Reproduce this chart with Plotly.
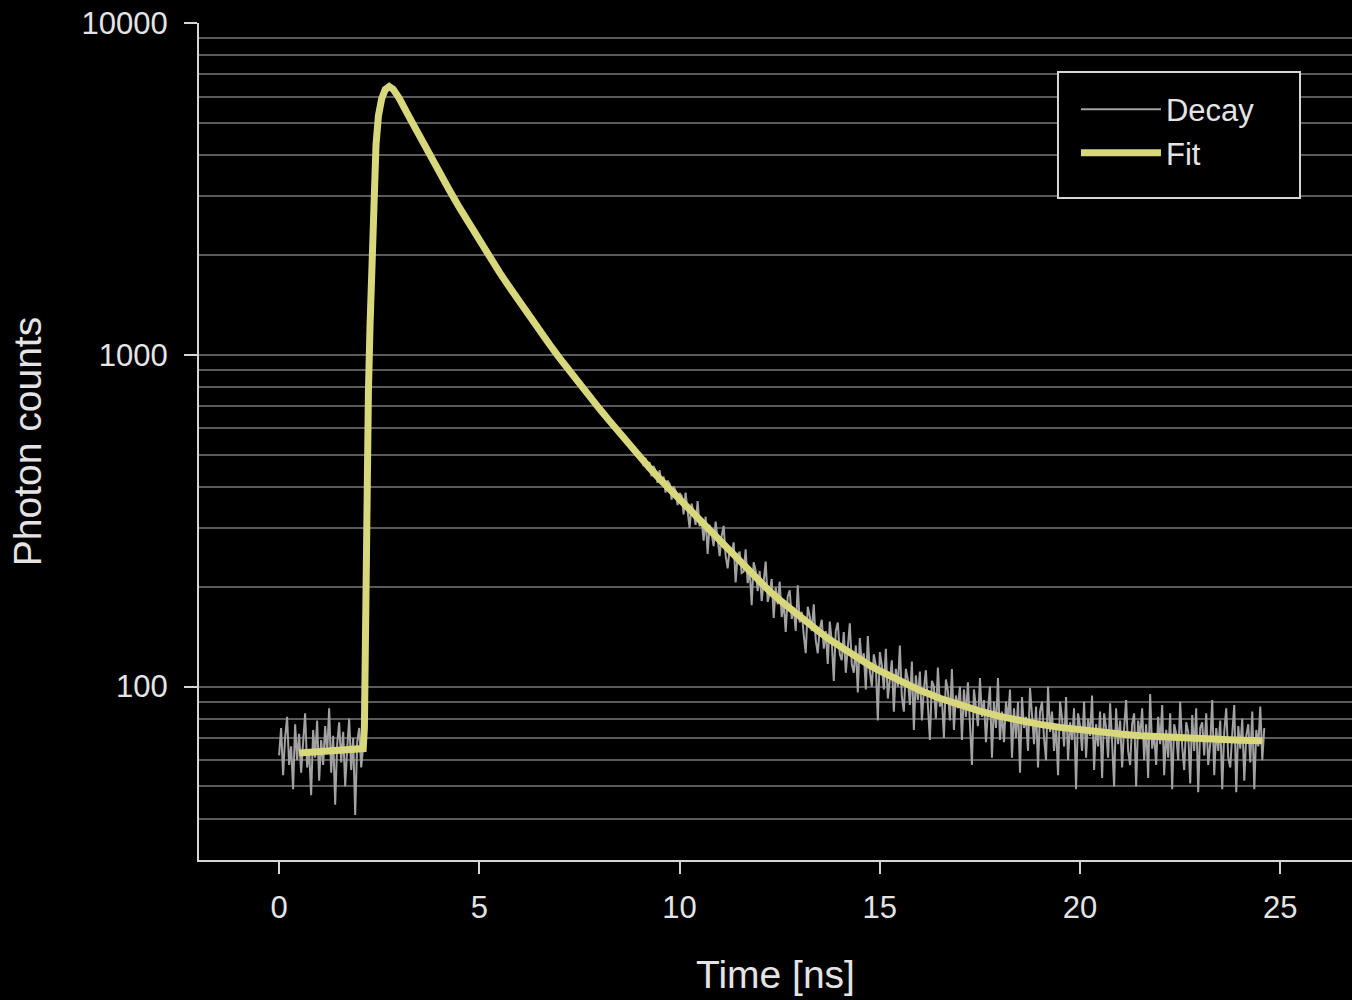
import numpy as np
import plotly.graph_objects as go

# ---------------- data ----------------
# measured decay histogram: one channel every 0.05 ns from 0.00 ns to 24.60 ns
decay_time_ns = np.round(np.arange(0.0, 24.601, 0.05), 2)
decay_counts = [
    # 0.00 - 2.10 ns : background before the excitation pulse
    62, 75, 54, 70, 81, 58, 66, 49, 77, 60, 72, 55, 68, 83, 57, 64, 47, 74, 61, 79,
    52, 69, 58, 76, 63, 86, 55, 71, 44, 67, 78, 59, 73, 50, 65, 80, 56, 70, 41, 68,
    75, 57, 66,
    # 2.15 - 2.75 ns : rise
    160, 540, 1010, 1730, 2880, 3870, 4790, 5380, 5870, 6050, 6330, 6360, 6450,
    # 2.80 - 10.00 ns
    6350, 6340, 6170, 6130, 5880, 5820, 5600, 5540, 5330, 5250,
    5070, 5010, 4820, 4770, 4590, 4540, 4360, 4310, 4160, 4090,
    3950, 3910, 3760, 3690, 3580, 3520, 3400, 3370, 3230, 3180,
    3080, 3050, 2930, 2900, 2790, 2760, 2650, 2630, 2520, 2500,
    2400, 2380, 2280, 2260, 2190, 2170, 2100, 2070, 1990, 1975,
    1900, 1880, 1820, 1800, 1750, 1730, 1680, 1660, 1610, 1595,
    1545, 1528, 1480, 1464, 1425, 1410, 1370, 1354, 1310, 1300,
    1260, 1250, 1211, 1200, 1168, 1160, 1122, 1115, 1082, 1075,
    1041, 1035, 1003, 995, 965, 965, 932, 925, 900, 893,
    869, 860, 839, 830, 811, 808, 784, 778, 757, 750,
    732, 725, 707, 700, 683, 680, 659, 655, 638, 632,
    616, 612, 595, 590, 576, 575, 556, 553, 537, 535,
    518, 520, 500, 507, 484, 498, 462, 489, 451, 475,
    430, 462, 447, 411, 449, 405, 430, 384, 418, 409,
    366, 402, 389, 352, 383,
    # 10.05 - 24.60 ns : tail
    376, 330, 384, 338, 301, 356, 335, 307, 362, 304,
    319, 275, 325, 251, 307, 290, 265, 314, 272, 247,
    284, 305, 248, 227, 259, 248, 272, 206, 249, 255,
    220, 222, 259, 205, 225, 176, 237, 223, 194, 223,
    181, 208, 238, 180, 191, 211, 161, 199, 177, 207,
    162, 180, 146, 187, 195, 160, 173, 147, 202, 156,
    168, 143, 126, 174, 163, 147, 177, 138, 126, 149,
    159, 130, 147, 117, 157, 137, 104, 147, 156, 125,
    120, 146, 110, 131, 155, 117, 110, 133, 96, 140,
    117, 126, 98, 142, 111, 100, 125, 116, 79, 127,
    116, 98, 130, 92, 108, 120, 84, 113, 100, 133,
    93, 84, 113, 105, 88, 119, 74, 108, 91, 111,
    79, 98, 112, 86, 69, 104, 100, 80, 114, 87,
    92, 70, 105, 97, 79, 113, 74, 94, 86, 100,
    69, 98, 81, 103, 74, 58, 98, 88, 76, 106,
    81, 91, 68, 85, 100, 61, 90, 75, 106, 69,
    84, 68, 90, 79, 98, 61, 86, 70, 90, 55,
    93, 75, 81, 64, 99, 82, 67, 87, 57, 84,
    90, 70, 60, 100, 73, 84, 64, 77, 54, 90,
    80, 66, 93, 60, 78, 69, 86, 49, 83, 76,
    64, 90, 61, 80, 71, 94, 56, 77, 66, 84,
    53, 83, 75, 61, 89, 68, 50, 86, 67, 79,
    57, 75, 91, 64, 58, 77, 83, 50, 79, 70,
    86, 60, 77, 53, 95, 65, 72, 58, 81, 67,
    88, 54, 74, 61, 83, 49, 77, 72, 60, 90,
    66, 56, 78, 73, 51, 82, 64, 86, 48, 75,
    78, 62, 83, 58, 67, 91, 54, 75, 64, 79,
    49, 73, 86, 61, 57, 72, 88, 48, 76, 65,
    80, 52, 71, 77, 59, 84, 49, 74, 66, 87,
    60, 75,
]

# fitted curve
fit_time_ns = [0.5, 1.0, 1.5, 2.0, 2.10, 2.13, 2.15, 2.17, 2.19, 2.23,
               2.27, 2.31, 2.36, 2.42, 2.48, 2.56, 2.65, 2.75, 2.85, 2.95,
               3.0, 3.25, 3.5, 3.75, 4.0, 4.25, 4.5, 4.75, 5.0, 5.25,
               5.5, 5.75, 6.0, 6.25, 6.5, 6.75, 7.0, 7.25, 7.5, 7.75,
               8.0, 8.25, 8.5, 8.75, 9.0, 9.25, 9.5, 9.75, 10.0, 10.25,
               10.5, 10.75, 11.0, 11.25, 11.5, 11.75, 12.0, 12.25, 12.5, 12.75,
               13.0, 13.25, 13.5, 13.75, 14.0, 14.25, 14.5, 14.75, 15.0, 15.5,
               16.0, 16.5, 17.0, 17.5, 18.0, 18.5, 19.0, 19.5, 20.0, 20.5,
               21.0, 21.5, 22.0, 22.5, 23.0, 23.5, 24.0, 24.55]
fit_counts = [63, 63.5, 64, 64.5, 65, 75, 150, 330, 480, 770,
              1220, 1930, 3080, 4300, 5250, 5900, 6300, 6430, 6310, 6095,
              5930, 5200, 4560, 4018, 3540, 3137, 2780, 2477, 2208, 1979,
              1774, 1600, 1442, 1306, 1183, 1076, 979, 893, 817, 749,
              687, 632, 581, 535, 493, 456, 423, 394, 366, 340,
              315, 292, 272, 253, 236, 220.5, 206.6, 193.7, 182.3, 171.7,
              162.2, 153.5, 145.7, 138.4, 132, 126, 120.7, 115.8, 111.4, 103.7,
              97.4, 92.2, 87.8, 84.3, 81.3, 78.9, 76.9, 75.3, 73.9, 72.8,
              71.9, 71.1, 70.5, 70.0, 69.5, 69.2, 68.9, 68.6]

x_ticks = [0, 5, 10, 15, 20, 25]
y_major_ticks = [100, 1000, 10000]
y_minor_ticks = [40, 50, 60, 70, 80, 90,
                 200, 300, 400, 500, 600, 700, 800, 900,
                 2000, 3000, 4000, 5000, 6000, 7000, 8000, 9000]

# ---------------- styling ----------------
FONT = "Liberation Sans, Arial, Helvetica, sans-serif"
TEXT = "#e4e4e4"
AXIS = "#d6d6d6"
GRID = "#5a5a5a"
DECAY_COLOR = "#a2a2a2"
FIT_COLOR = "#d9d77b"

fig = go.Figure()
fig.add_trace(go.Scatter(
    x=decay_time_ns, y=decay_counts, mode="lines", name="Decay",
    line=dict(color=DECAY_COLOR, width=2.0),
))
fig.add_trace(go.Scatter(
    x=fit_time_ns, y=fit_counts, mode="lines", name="Fit",
    line=dict(color=FIT_COLOR, width=7),
))

fig.update_layout(
    width=1352, height=1000,
    paper_bgcolor="black", plot_bgcolor="black",
    margin=dict(l=199, r=0, t=23, b=140, autoexpand=False),
    font=dict(family=FONT, color=TEXT, size=31),
    showlegend=True,
    legend=dict(
        x=0.7606, y=0.9287, xanchor="left", yanchor="top",
        bgcolor="rgba(0,0,0,0)", borderwidth=0,
        font=dict(family=FONT, color=TEXT, size=31),
        itemwidth=80, traceorder="normal",
    ),
    # legend frame
    shapes=[dict(
        type="rect", xref="paper", yref="paper",
        x0=0.7450, x1=0.9549, y0=0.7909, y1=0.9415,
        line=dict(color=AXIS, width=2), fillcolor="black", layer="above",
    )],
)

fig.update_xaxes(
    range=[-2.0, 26.79], tickvals=x_ticks, ticktext=[str(v) for v in x_ticks],
    showgrid=False, zeroline=False,
    showline=True, linecolor=AXIS, linewidth=2,
    ticks="outside", ticklen=12, tickwidth=2, tickcolor=AXIS,
    ticklabelstandoff=7,
    tickfont=dict(family=FONT, color=TEXT, size=31),
    title=dict(text="Time [ns]", font=dict(family=FONT, color=TEXT, size=39), standoff=36),
    automargin=False,
)
fig.update_yaxes(
    type="log", range=[np.log10(30), 4],
    tickvals=y_major_ticks, ticktext=[str(v) for v in y_major_ticks],
    showgrid=True, gridcolor=GRID, gridwidth=2, zeroline=False,
    showline=True, linecolor=AXIS, linewidth=2,
    ticks="outside", ticklen=13, tickwidth=2, tickcolor=AXIS,
    ticklabelstandoff=10,
    tickfont=dict(family=FONT, color=TEXT, size=31),
    minor=dict(tickvals=y_minor_ticks, showgrid=True, gridcolor=GRID, gridwidth=2, ticks=""),
    title=dict(text="Photon counts", font=dict(family=FONT, color=TEXT, size=39), standoff=28),
    automargin=False,
)

fig.write_html(
    "out.html",
    config={"displayModeBar": False},
    post_script="document.body.style.margin='0';document.body.style.background='black';",
)
